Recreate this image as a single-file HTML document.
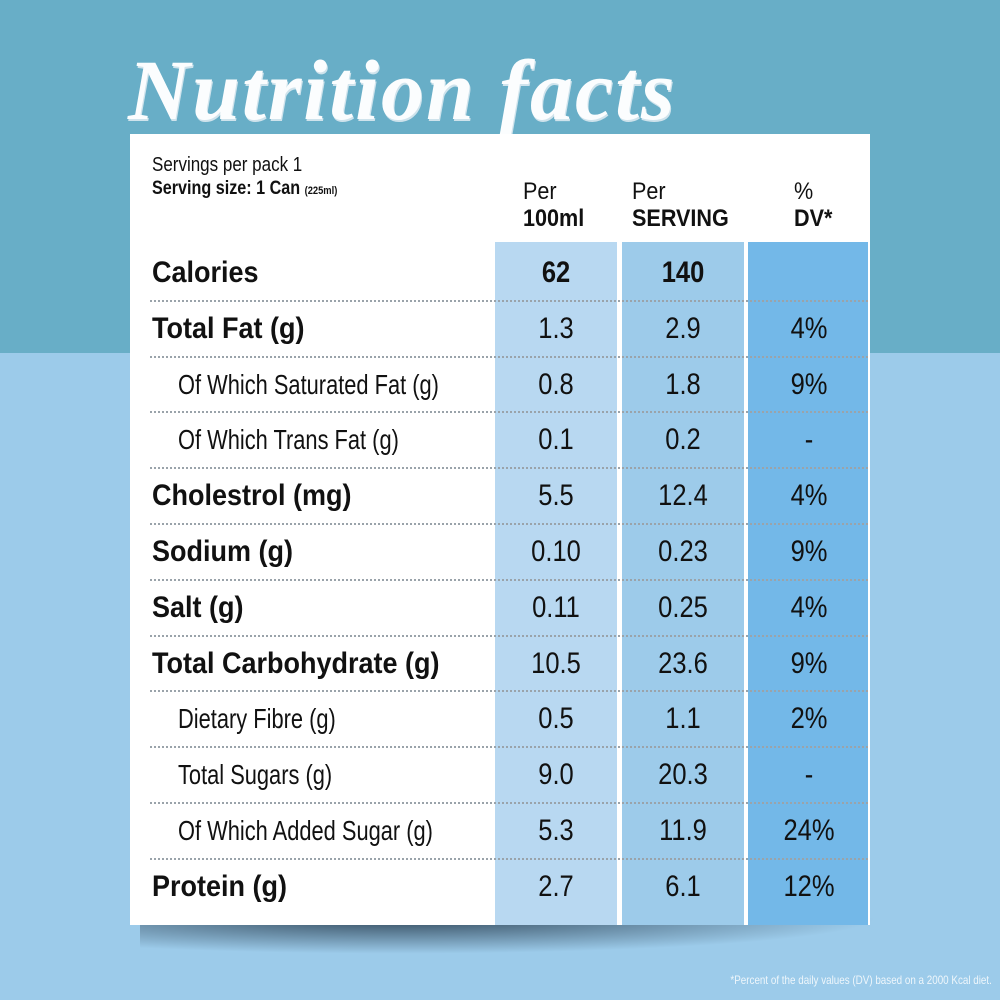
<!DOCTYPE html>
<html><head><meta charset="utf-8"><style>
*{margin:0;padding:0;box-sizing:border-box}
body{width:1000px;height:1000px;position:relative;overflow:hidden;background:#9ccbea;font-family:"Liberation Sans",sans-serif;color:#111}
#top{position:absolute;left:0;top:0;width:1000px;height:353px;background:#68aec7}
#title{position:absolute;left:128px;top:40px;font-family:"Liberation Serif",serif;font-style:italic;font-weight:bold;font-size:86px;color:#fbfdfe;letter-spacing:2px;white-space:nowrap;text-shadow:1px 2px 0 #cfe3ec;transform:scaleX(1.0);transform-origin:left}
#shadow{position:absolute;left:140px;top:918px;width:740px;height:36px;background:radial-gradient(ellipse at 35% 0%,rgba(15,30,45,.75),rgba(15,30,45,0) 70%)}
#card{position:absolute;left:130px;top:134px;width:740px;height:791px;background:#fff}
.col{position:absolute;top:108px;height:683px}
.t{position:absolute;white-space:nowrap;transform-origin:left}
.row{position:absolute;left:20px;width:718px;height:56px;border-top:2px dotted #9aa3aa}
.lab{position:absolute;left:22px;font-size:30px;line-height:56px;transform:scaleX(0.9)}
.b{font-weight:bold}
.sub{left:48px;font-size:28px;transform:scaleX(0.78)}
.v{position:absolute;width:122px;text-align:center;font-size:30px;line-height:56px;transform:scaleX(0.85);transform-origin:center}
#foot{position:absolute;right:8px;top:973px;font-size:12px;color:#eef6fb;white-space:nowrap;transform:scaleX(0.82);transform-origin:right}
</style></head><body>
<div id="top"></div>
<div id="title">Nutrition facts</div>
<div id="shadow"></div>
<div id="card">
 <div class="col" style="left:365px;width:122px;background:#b8d8f1"></div>
 <div class="col" style="left:492px;width:122px;background:#9dcbea"></div>
 <div class="col" style="left:618px;width:120px;background:#73b8e8"></div>
 <div class="t" style="left:22px;top:20px;font-size:20px;transform:scaleX(0.85)">Servings per pack 1</div>
 <div class="t b" style="left:22px;top:44px;font-size:19px;transform:scaleX(0.85)">Serving size: 1 Can <span style="font-size:11px">(225ml)</span></div>
 <div class="t" style="left:393px;top:44px;font-size:24px;line-height:27px;transform:scaleX(0.9)">Per<br><b>100ml</b></div>
 <div class="t" style="left:502px;top:44px;font-size:24px;line-height:27px;transform:scaleX(0.9)">Per<br><b>SERVING</b></div>
 <div class="t" style="left:664px;top:44px;font-size:24px;line-height:27px;transform:scaleX(0.9)">%<br><b>DV*</b></div>
 <div id="rows"></div>
</div>
<div id="foot">*Percent of the daily values (DV) based on a 2000 Kcal diet.</div>
<script>
const labels=["Calories","Total Fat (g)","Of Which Saturated Fat (g)","Of Which Trans Fat (g)","Cholestrol (mg)","Sodium (g)","Salt (g)","Total Carbohydrate (g)","Dietary Fibre (g)","Total Sugars (g)","Of Which Added Sugar (g)","Protein (g)"];
const isSub=[0,0,1,1,0,0,0,0,1,1,1,0];
const per100=["62","1.3","0.8","0.1","5.5","0.10","0.11","10.5","0.5","9.0","5.3","2.7"];
const perServ=["140","2.9","1.8","0.2","12.4","0.23","0.25","23.6","1.1","20.3","11.9","6.1"];
const dv=["","4%","9%","-","4%","9%","4%","9%","2%","-","24%","12%"];
const host=document.getElementById('rows');
labels.forEach((l,i)=>{
 const top=111+i*55.8;
 if(i>0){const r=document.createElement('div');r.className='row';r.style.top=(top-1)+'px';r.style.height='0';
 
 
 host.appendChild(r);}
 const a=document.createElement('div');a.className='t lab'+(isSub[i]?' sub':' b');a.style.top=top+'px';a.textContent=l;
 
 
 host.appendChild(a);
 [[per100,365],[perServ,492],[dv,618]].forEach(([arr,x],j)=>{
  const v=document.createElement('div');v.className='v'+(i===0?' b':'');v.style.left=x+'px';v.style.top=top+'px';v.textContent=arr[i];
  
  
  host.appendChild(v);
 });
});
</script>
</body></html>
